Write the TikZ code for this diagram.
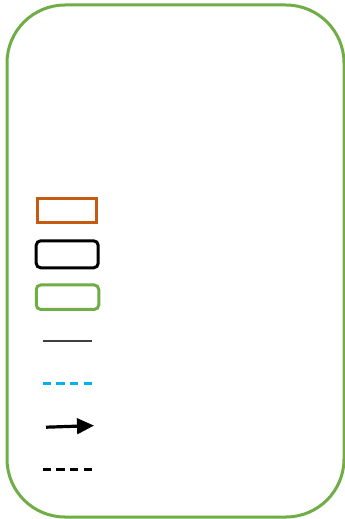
\documentclass[tikz,border=0pt]{standalone}
\usetikzlibrary{arrows.meta}
\definecolor{frameGreen}{RGB}{112,173,71}
\definecolor{legOrange}{RGB}{197,90,17}
\definecolor{legBlue}{RGB}{0,176,240}
\definecolor{legGray}{RGB}{64,64,64}
\tikzset{
  legbox/.style={draw, inner sep=0pt, fill=white},
}
\begin{document}
\begin{tikzpicture}[x=1pt,y=-1pt]
\useasboundingbox (0,0) rectangle (345,519);
\node[draw=frameGreen, line width=3pt, rounded corners=58pt, minimum width=337pt, minimum height=512pt, inner sep=0pt] (frame) at (175.5,261) {};
\node[legbox, draw=legOrange, line width=2.8pt, minimum width=58.5pt, minimum height=23.5pt] (orangebox) at (67,210.5) {};
\node[legbox, draw=black, line width=3pt, rounded corners=4.5pt, minimum width=62pt, minimum height=27pt] (blackbox) at (67.2,254.3) {};
\node[legbox, draw=frameGreen, line width=3pt, rounded corners=4.5pt, minimum width=62.5pt, minimum height=24.5pt] (greenbox) at (67.5,297.2) {};
\coordinate (s1) at (42.7,340.7);
\coordinate (e1) at (91.7,340.7);
\coordinate (s2) at (42.7,383.3);
\coordinate (e2) at (91.7,383.3);
\coordinate (s3) at (46,427.2);
\coordinate (e3) at (94,425.6);
\coordinate (s4) at (42.7,469);
\coordinate (e4) at (91.7,469);
\draw[legGray, line width=2pt] (s1) -- (e1);
\draw[legBlue, line width=2.4pt, dash pattern=on 8.2pt off 5.5pt] (s2) -- (e2);
\draw[black, line width=3.2pt, -{Triangle[length=17pt,width=15.5pt]}] (s3) -- (e3);
\draw[black, line width=3pt, dash pattern=on 8.2pt off 5.5pt] (s4) -- (e4);
\end{tikzpicture}
\end{document}
